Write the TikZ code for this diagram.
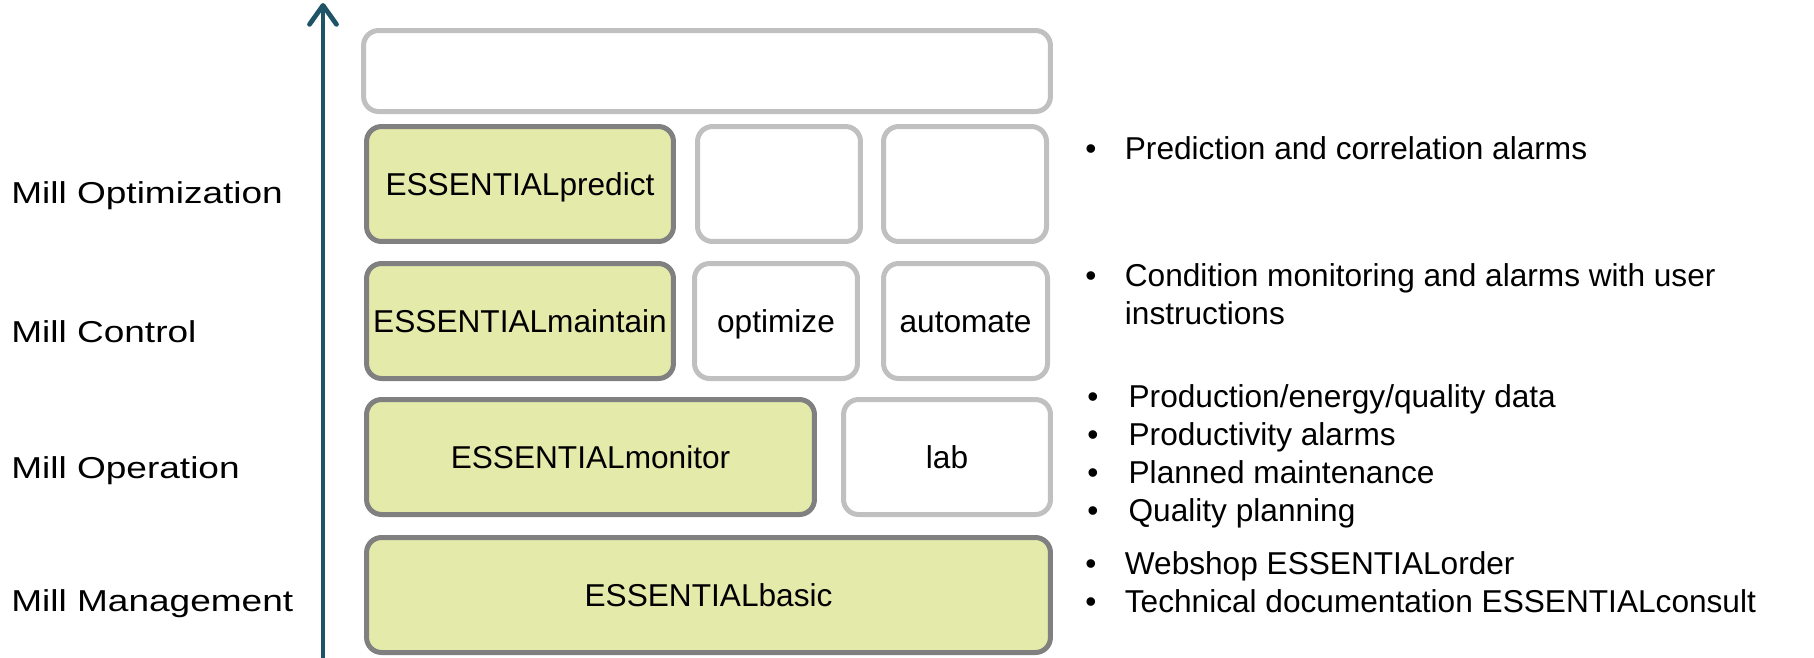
\documentclass[tikz,border=0pt]{standalone}
\usepackage{fontspec}
\setmainfont{Liberation Sans}
\usepackage{graphicx}
\usetikzlibrary{arrows.meta, positioning}
\definecolor{boxgreen}{RGB}{228,234,170}
\definecolor{axisteal}{RGB}{31,84,102}
\definecolor{rimdark}{RGB}{128,128,128}
\definecolor{rimlight}{RGB}{192,192,192}
\tikzset{
	module/.style={draw=rimdark, fill=boxgreen, line width=0.1cm, rounded corners=0.3cm,
		minimum height=2.3cm, inner sep=0pt, text height=13pt, text depth=0pt,
		font=\fontsize{18}{21.7}\selectfont},
	spare/.style={module, draw=rimlight, fill=white},
	level/.style={anchor=base west, inner sep=0pt, font=\fontsize{17.2}{20}\selectfont},
	notes/.style={anchor=base west, inner sep=0pt, font=\fontsize{18}{21.7}\selectfont}
}

\begin{document}
\begin{tikzpicture}[x=0.02cm, y=-0.02cm]
			\useasboundingbox (0,0) rectangle (1814,657);
			% Axis
			\coordinate (foot) at (323,662);
			\coordinate (tip) at (323,3);
			\draw[axisteal, line width=0.095cm, -{Straight Barb[length=3.8mm,width=5.4mm,round]}] (foot) -- (tip);
			% Levels
			\node[level] (opt) at (11,203) {\scalebox{1.225}[1]{Mill Optimization}};
			\node[level] (ctl) at (11,342) {\scalebox{1.225}[1]{Mill Control}};
			\node[level] (oper) at (11,478) {\scalebox{1.225}[1]{Mill Operation}};
			\node[level] (mgmt) at (11,611) {\scalebox{1.225}[1]{Mill Management}};
			% Modules
			\node[spare, minimum width=13.74cm, minimum height=1.62cm] (roof) at (707,71) {};
			%predict
			\node[module, minimum width=6.14cm] (predict) at (520,184) {ESSENTIALpredict};
			\node[spare, minimum width=3.26cm] (predA) at (779,184) {};
			\node[spare, minimum width=3.26cm] (predB) at (965,184) {};
			%maintain
			\node[module, minimum width=6.14cm] (maintain) at (520,321) {ESSENTIALmaintain};
			\node[spare, minimum width=3.26cm] (optimize) at (776,321) {optimize};
			\node[spare, minimum width=3.28cm] (automate) at (965.5,321) {automate};
			%monitor
			\node[module, minimum width=8.96cm] (monitor) at (590.5,457) {ESSENTIALmonitor};
			\node[spare, minimum width=4.14cm] (lab) at (947,457) {lab};
			%basic
			\node[module, minimum width=13.68cm] (basic) at (708.5,595) {ESSENTIALbasic};
			% Notes
			\node[notes] (noteOpt) at (1085,159.4) {\begin{tabular}[t]{@{}l@{\hspace{16.2pt}}l@{}}
				\textbullet & Prediction and correlation alarms
			\end{tabular}};
			\node[notes] (noteCtl) at (1085,286.4) {\begin{tabular}[t]{@{}l@{\hspace{16.2pt}}l@{}}
				\textbullet & Condition monitoring and alarms with user\\
				& instructions
			\end{tabular}};
			\node[notes] (noteOper) at (1087,407.4) {\begin{tabular}[t]{@{}l@{\hspace{17.2pt}}l@{}}
				\textbullet & Production/energy/quality data\\
				\textbullet & Productivity alarms\\
				\textbullet & Planned maintenance\\
				\textbullet & Quality planning
			\end{tabular}};
			\node[notes] (noteMgmt) at (1085,574.4) {\begin{tabular}[t]{@{}l@{\hspace{16.2pt}}l@{}}
				\textbullet & Webshop ESSENTIALorder\\
				\textbullet & Technical documentation ESSENTIALconsult
			\end{tabular}};
		\end{tikzpicture}
\end{document}
